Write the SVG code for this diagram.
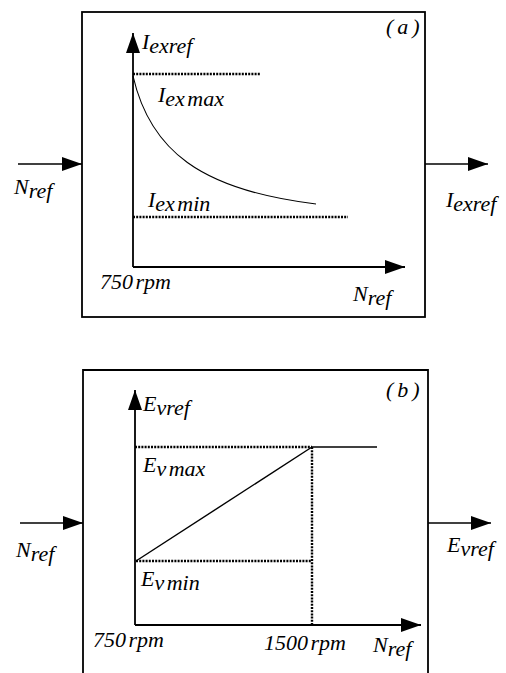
<svg xmlns="http://www.w3.org/2000/svg" width="506" height="673" viewBox="0 0 506 673">
<style>
text{font-family:"Liberation Serif","Times New Roman",serif;font-style:italic;font-size:22px;fill:#000}
.box{fill:#fff;stroke:#000;stroke-width:1.8}
.ln{fill:none;stroke:#000;stroke-width:1.4}
.cv{fill:none;stroke:#000;stroke-width:1.1}
.ax{fill:none;stroke:#000;stroke-width:1.8}
.dot{fill:none;stroke:#000;stroke-width:2.4;stroke-dasharray:2 1.2}
.ws{word-spacing:-3px}
.tag{letter-spacing:4px}
</style>
<defs>
<marker id="ah" viewBox="0 0 20 14" refX="20" refY="7" markerWidth="20" markerHeight="14" markerUnits="userSpaceOnUse" orient="auto">
<path d="M0,0 L20,7 L0,14 Z" fill="#000"/>
</marker>
</defs>
<rect width="506" height="673" fill="#fff"/>

<g id="blockA">
<rect class="box" x="82" y="12" width="343" height="305"/>
<text x="386" y="34" class="tag">(a)</text>
</g>
<g id="blockB">
<path class="box" d="M83,675 V370 H428 V675"/>
<text x="386" y="397" class="tag">(b)</text>
</g>

<g id="chartA">
<path class="ax" d="M133,267 V33" marker-end="url(#ah)"/>
<path class="ax" d="M133,267 H405" marker-end="url(#ah)"/>
<path class="dot" d="M133,74 H261"/>
<path class="dot" d="M133,217 H348"/>
<path class="cv" d="M133,76 C150,150 200,190 316,204"/>
<text x="142" y="49">I<tspan dy="4">exref</tspan></text>
<text x="158" y="102" class="ws">I<tspan dy="4">ex max</tspan></text>
<text x="148" y="207" class="ws">I<tspan dy="4">ex min</tspan></text>
<text x="100" y="289" class="ws">750 rpm</text>
<text x="353" y="301">N<tspan dy="4">ref</tspan></text>
</g>

<g id="chartB">
<path class="ax" d="M135,625 V390" marker-end="url(#ah)"/>
<path class="ax" d="M135,625 H421" marker-end="url(#ah)"/>
<path class="dot" d="M135,447 H312"/>
<path class="dot" d="M136,561 H312"/>
<path class="dot" d="M312,447 V625"/>
<path class="ln" d="M312,447 H377"/>
<path class="ln" d="M136,561 L312,447"/>
<text x="143" y="411">E<tspan dy="4">vref</tspan></text>
<text x="143" y="472" class="ws">E<tspan dy="4">v max</tspan></text>
<text x="141" y="586" class="ws">E<tspan dy="4">v min</tspan></text>
<text x="93" y="647" class="ws">750 rpm</text>
<text x="264" y="650" class="ws">1500 rpm</text>
<text x="373" y="652">N<tspan dy="4">ref</tspan></text>
</g>

<g id="connectors">
<path class="ln" d="M18,164 H82" marker-end="url(#ah)"/>
<path class="ln" d="M425,164 H488" marker-end="url(#ah)"/>
<path class="ln" d="M20,523 H83" marker-end="url(#ah)"/>
<path class="ln" d="M428,523 H491" marker-end="url(#ah)"/>
</g>

<g id="ioLabels">
<text x="14" y="194">N<tspan dy="4">ref</tspan></text>
<text x="446" y="207">I<tspan dy="4">exref</tspan></text>
<text x="16" y="557">N<tspan dy="4">ref</tspan></text>
<text x="447" y="552">E<tspan dy="4">vref</tspan></text>
</g>
</svg>
